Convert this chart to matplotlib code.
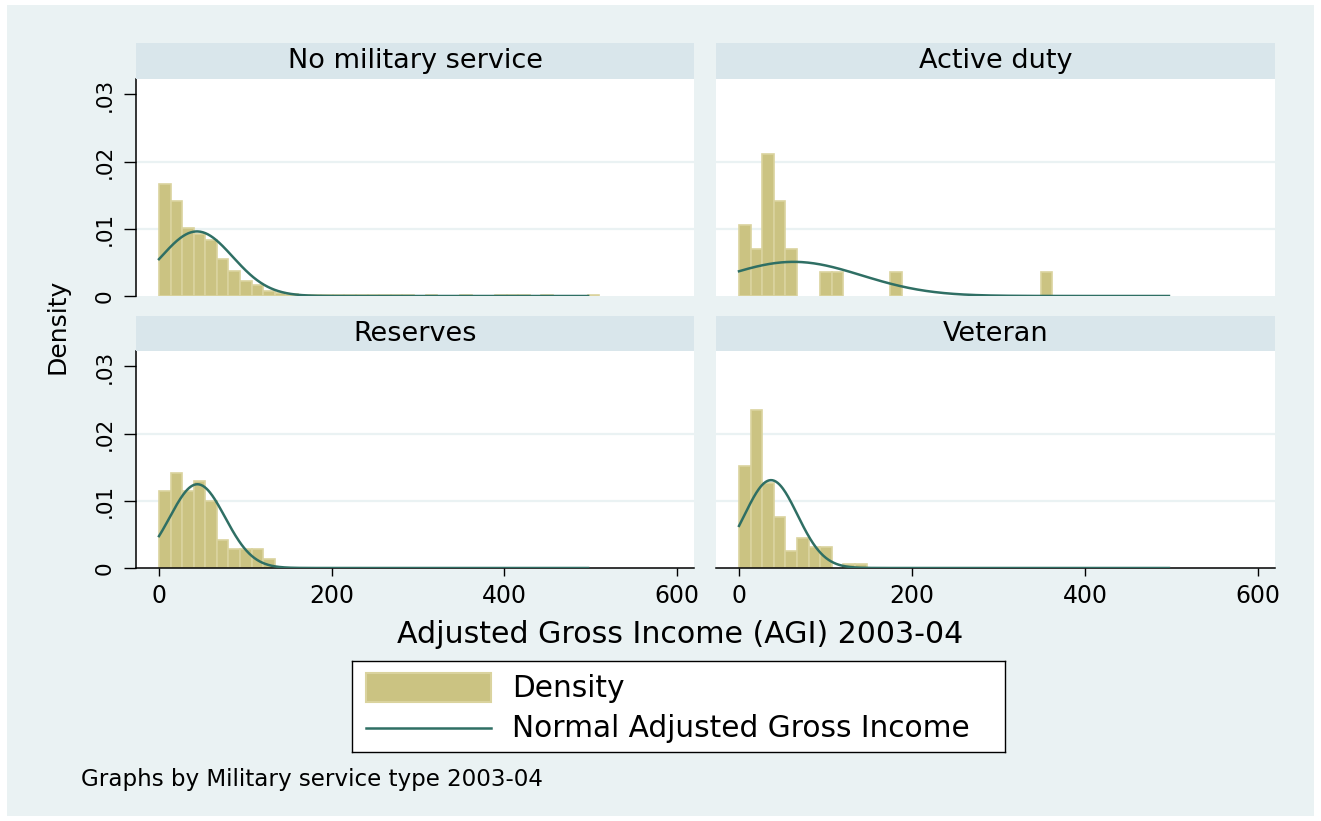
"""Income histograms by military service type, with normal density overlays."""
import matplotlib
matplotlib.use("Agg")
import matplotlib.pyplot as plt
import numpy as np
from matplotlib.patches import Rectangle

# histogram bins (thousands of dollars), shared by all four groups
BIN_WIDTH = 13.42
CURVE_RANGE = (0, 497)

groups = ["No military service", "Active duty", "Reserves", "Veteran"]

no_service_density = [0.0166, 0.0142, 0.0101, 0.0093, 0.0083, 0.0055, 0.0037,
                      0.0022, 0.0017, 0.0007, 0.0004, 0.0003, 0.00015, 0.00015,
                      0.00015, 0.0002, 0.0002, 0.0002, 0.0002, 0.0002, 0.0002,
                      0.0002, 0, 0.0002, 0, 0, 0.0002, 0, 0, 0.0002, 0.0002,
                      0.0002, 0, 0.0002, 0, 0, 0, 0.0002]
active_duty_density = [0.0105, 0.0070, 0.0211, 0.0141, 0.0070, 0, 0, 0.0035,
                       0.0035, 0, 0, 0, 0, 0.0035, 0, 0, 0, 0, 0, 0, 0, 0, 0,
                       0, 0, 0, 0.0035]
reserves_density = [0.0114, 0.0142, 0.0114, 0.0129, 0.0099, 0.0041, 0.0028,
                    0.0028, 0.0028, 0.0013]
veteran_density = [0.0152, 0.0235, 0.0126, 0.0076, 0.0025, 0.0045, 0.0032,
                   0.0032, 0, 0.0006, 0.0006]

# fitted normal parameters per group
group_means = [44.0, 63.0, 44.5, 37.0]
group_sds = [41.5, 78.5, 32.0, 30.5]

x_ticks = [0, 200, 400, 600]
y_ticks = [0, 0.01, 0.02, 0.03]
y_tick_labels = ["0", ".01", ".02", ".03"]

BG = "#EAF2F3"
STRIP = "#D9E6EB"
BAR_FILL = "#CBC382"
BAR_EDGE = "#DAD39E"
CURVE = "#2F6F64"

W, H = 1321, 821
plt.rcParams["font.family"] = ["DejaVu Sans"]


def px_rect(x0, y0, x1, y1):
    """Figure-fraction rectangle from pixel corners, origin top-left."""
    return [x0 / W, 1 - y1 / H, (x1 - x0) / W, (y1 - y0) / H]


def draw_panel(fig, rect, strip, title, density, mean, sd, left, bottom):
    ax = fig.add_axes(px_rect(*rect))
    ax.set_facecolor("white")

    fig.add_artist(Rectangle((strip[0] / W, 1 - strip[3] / H),
                             (strip[2] - strip[0]) / W,
                             (strip[3] - strip[1]) / H,
                             transform=fig.transFigure, facecolor=STRIP,
                             edgecolor="none"))
    fig.text((strip[0] + strip[2]) / 2 / W, 1 - (strip[1] + strip[3]) / 2 / H,
             title, ha="center", va="center", fontsize=19.5)

    density = np.asarray(density)
    edges = np.arange(len(density)) * BIN_WIDTH
    keep = density > 0
    ax.bar(edges[keep], density[keep], width=BIN_WIDTH, align="edge",
           color=BAR_FILL, edgecolor=BAR_EDGE, linewidth=1.2, zorder=2)

    xs = np.linspace(*CURVE_RANGE, 500)
    ys = np.exp(-0.5 * ((xs - mean) / sd) ** 2) / (sd * np.sqrt(2 * np.pi))
    ax.plot(xs, ys, color=CURVE, linewidth=1.8, zorder=3)

    for y in y_ticks[1:3]:
        ax.axhline(y, color=BG, linewidth=1.6, zorder=1)

    ax.set_xlim(-26.6, 619.6)
    ax.set_ylim(0, 0.0323)
    for side in ax.spines.values():
        side.set_visible(False)

    if left:
        ax.spines["left"].set_visible(True)
        ax.spines["left"].set_linewidth(1.1)
        ax.set_yticks(y_ticks, y_tick_labels, rotation=90, va="center",
                      fontsize=15.5)
        ax.tick_params(axis="y", length=8.6, width=1.0, pad=7)
    else:
        ax.set_yticks([])

    if bottom:
        ax.spines["bottom"].set_visible(True)
        ax.spines["bottom"].set_linewidth(1.1)
        ax.set_xticks(x_ticks, [str(t) for t in x_ticks], fontsize=17)
        ax.tick_params(axis="x", length=5.8, width=1.0, pad=6)
    else:
        ax.set_xticks([])
    return ax


def draw_legend(fig):
    lg = fig.add_axes(px_rect(352, 661, 1005, 752))
    lg.set_xlim(0, 653)
    lg.set_ylim(91, 0)
    lg.set_xticks([])
    lg.set_yticks([])
    for side in lg.spines.values():
        side.set_linewidth(1.0)
    lg.add_patch(Rectangle((14, 12), 125, 29, facecolor=BAR_FILL,
                           edgecolor=BAR_EDGE, linewidth=1.5))
    lg.plot([14, 139], [67, 67], color=CURVE, linewidth=1.8)
    lg.text(160, 27, "Density", va="center", fontsize=21.3)
    lg.text(160, 67, "Normal Adjusted Gross Income", va="center",
            fontsize=21.3)


def main():
    fig = plt.figure(figsize=(W / 100, H / 100), dpi=100)
    fig.patch.set_facecolor("white")
    fig.add_artist(Rectangle((7 / W, 5 / H), (W - 14) / W, (H - 10) / H,
                             transform=fig.transFigure, facecolor=BG,
                             edgecolor="none", zorder=-10))

    densities = [no_service_density, active_duty_density,
                 reserves_density, veteran_density]
    cols = [(136, 694), (716, 1275)]
    rows = [((43, 79), (79, 296)), ((316, 351), (351, 568))]

    for i, title in enumerate(groups):
        r, c = divmod(i, 2)
        x0, x1 = cols[c]
        (s0, s1), (p0, p1) = rows[r]
        draw_panel(fig, (x0, p0, x1, p1), (x0, s0, x1, s1), title,
                   densities[i], group_means[i], group_sds[i],
                   left=(c == 0), bottom=(r == 1))

    fig.text(57 / W, 1 - 326 / H, "Density", rotation=90, ha="center",
             va="center", fontsize=18)
    fig.text(680 / W, 1 - 643 / H, "Adjusted Gross Income (AGI) 2003-04",
             ha="center", va="baseline", fontsize=21.6)
    fig.text(81 / W, 1 - 786 / H, "Graphs by Military service type 2003-04",
             ha="left", va="baseline", fontsize=16.6)

    draw_legend(fig)
    fig.savefig("out.png", dpi=100)


if __name__ == "__main__":
    main()
